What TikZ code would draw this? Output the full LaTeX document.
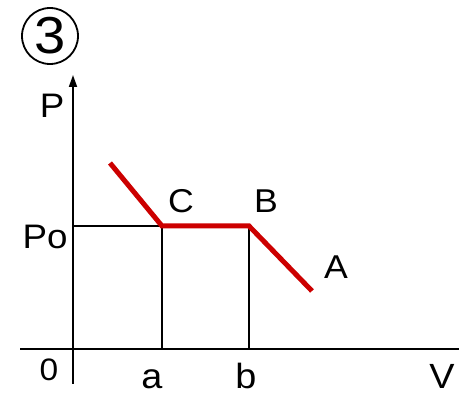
\documentclass[tikz,border=0pt]{standalone}
\usepackage{fontspec}
\setmainfont{Liberation Sans}[FakeStretch=1.08]
\usetikzlibrary{arrows.meta}
\begin{document}
\begin{tikzpicture}[x=1pt,y=-1pt,
  axis/.style={line width=1.8pt,black},
  guide/.style={line width=1.8pt,black},
  curve/.style={line width=5pt,color={rgb,255:red,204;green,0;blue,0},line join=miter},
  lbl/.style={anchor=base,inner sep=0pt,font=\fontsize{33}{38}\selectfont},
  axlbl/.style={anchor=base,inner sep=0pt,font=\fontsize{35}{40}\selectfont},
  biglbl/.style={anchor=base,inner sep=0pt,font=\fontsize{34}{40}\selectfont},
  numlbl/.style={anchor=base,inner sep=0pt,font=\fontsize{31}{34}\selectfont}]
\useasboundingbox (0,0) rectangle (459,395);
% coordinates
\coordinate (ytop) at (73,75);
\coordinate (ybot) at (73,384);
\coordinate (xleft) at (20,349);
\coordinate (xright) at (459,349);
\coordinate (p0) at (73,226);
\coordinate (start) at (110,163);
\coordinate (c) at (162,226);
\coordinate (b) at (249,226);
\coordinate (a) at (312,291);
\coordinate (ca) at (162,349);
\coordinate (cb) at (249,349);
% axes
\draw[axis,-{Triangle[width=8pt,length=12pt]}] (ybot) -- (ytop);
\draw[axis] (xleft) -- (xright);
% guides
\draw[guide] (p0) -- (c);
\draw[guide] (c) -- (ca);
\draw[guide] (b) -- (cb);
% curve
\draw[curve] (start) -- (c) -- (b) -- (a);
% labels
\node[draw,circle,line width=1.8pt,minimum size=56pt,inner sep=0pt,
  font=\fontsize{52}{60}\selectfont] (num) at (50,36) {3};
\node[biglbl] (lP) at (52,118) {P};
\node[biglbl] (lPo) at (45,249) {Po};
\node[numlbl] (l0) at (49,381) {0};
\node[axlbl] (la) at (152,389) {a};
\node[axlbl] (lb) at (246,389) {b};
\node[axlbl] (lV) at (442,389) {V};
\node[lbl] (lC) at (181,213) {C};
\node[lbl] (lB) at (266,213) {B};
\node[lbl] (lA) at (336,279) {A};
\end{tikzpicture}
\end{document}
